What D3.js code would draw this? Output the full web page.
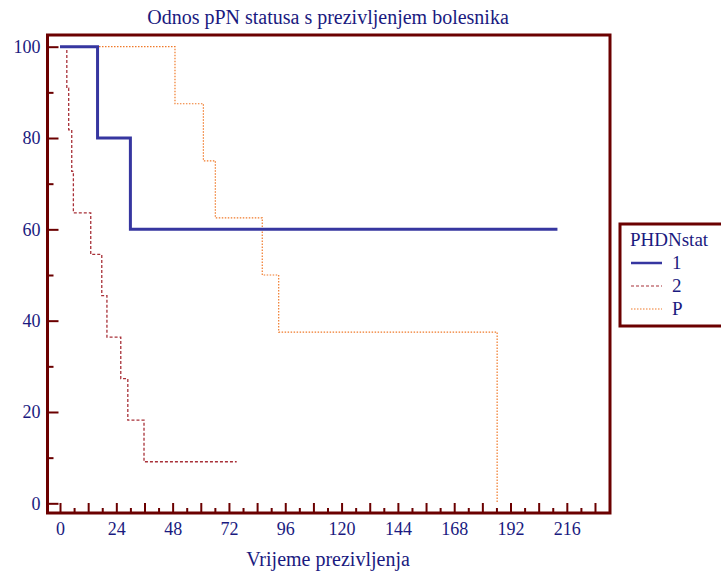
<!DOCTYPE html>
<html>
<head>
<meta charset="utf-8">
<script src="https://cdn.jsdelivr.net/npm/d3@7"></script>
<style>
body { margin: 0; background: #fff; }
text { font-family: "Liberation Serif", "DejaVu Serif", serif; fill: #1a1a80; }
</style>
</head>
<body>
<script>
// survival curves (time in months, survival %)
var times1 = [0, 16, 30, 212];
var surv1 = [100, 80, 60, 60];
var times2 = [0, 2.9, 3.7, 5, 5.7, 13.1, 17.8, 20, 25.9, 28.9, 35.8, 75.3];
var surv2 = [100, 90.9, 81.8, 72.7, 63.6, 54.5, 45.5, 36.4, 27.3, 18.2, 9.1, 9.1];
var timesP = [0, 49, 61.1, 66.2, 86.2, 93.2, 186.3];
var survP = [100, 87.5, 75, 62.5, 50, 37.5, 0];

var groups = ["1", "2", "P"];
var xTicks = [0, 24, 48, 72, 96, 120, 144, 168, 192, 216];
var yTicks = [0, 20, 40, 60, 80, 100];

var w = 721;
var h = 571;
var frame = "#6b0000";

var svg = d3.select("body")
    .append("svg")
    .attr("width", w)
    .attr("height", h);

var x = d3.scaleLinear()
    .domain([-5.33, 234.4])
    .range([47.5, 610]);

var y = d3.scaleLinear()
    .domain([-2.12, 102.56])
    .range([513, 35]);

// plot frame
svg.append("rect")
    .attr("x", x.range()[0])
    .attr("y", y.range()[1])
    .attr("width", x.range()[1] - x.range()[0])
    .attr("height", y.range()[0] - y.range()[1])
    .attr("fill", "none")
    .attr("stroke", frame)
    .attr("stroke-width", 3);

// y axis: major ticks every 20, minor every 10, pointing inward
svg.append("g")
    .attr("transform", "translate(" + x.range()[0] + ",0)")
    .call(d3.axisLeft(y).tickValues(d3.range(10, 100, 20)).tickSizeInner(-6).tickSizeOuter(0).tickFormat(""));
svg.append("g")
    .attr("transform", "translate(" + x.range()[0] + ",0)")
    .call(d3.axisLeft(y).tickValues(yTicks).tickSizeInner(-11).tickSizeOuter(0).tickPadding(7));

// x axis: major ticks every 12, minor every 6, labels every 24
svg.append("g")
    .attr("transform", "translate(0," + y.range()[0] + ")")
    .call(d3.axisBottom(x).tickValues(d3.range(6, 229, 12)).tickSizeInner(-5).tickSizeOuter(0).tickFormat(""));
svg.append("g")
    .attr("transform", "translate(0," + y.range()[0] + ")")
    .call(d3.axisBottom(x).tickValues(d3.range(0, 229, 12)).tickSizeInner(-10).tickSizeOuter(0)
        .tickPadding(9)
        .tickFormat(function(d) { return xTicks.indexOf(d) >= 0 ? d : ""; }));

svg.selectAll(".domain").remove();
svg.selectAll(".tick line")
    .attr("stroke", frame)
    .attr("stroke-width", 2);
svg.selectAll(".tick text")
    .attr("font-size", 18)
    .attr("font-family", "Liberation Serif")
    .attr("fill", "#1a1a80");

// titles
svg.append("text")
    .attr("x", 328)
    .attr("y", 24)
    .attr("text-anchor", "middle")
    .attr("font-size", 20)
    .text("Odnos pPN statusa s prezivljenjem bolesnika");

svg.append("text")
    .attr("x", 328)
    .attr("y", 566)
    .attr("text-anchor", "middle")
    .attr("font-size", 20)
    .text("Vrijeme prezivljenja");

// curves
var styles = [
    { color: "#3636a0", width: 3, dash: null },
    { color: "#a83038", width: 1.3, dash: "3,2" },
    { color: "#f07a2a", width: 1.2, dash: "1.5,1.5" }
];
var series = [
    d3.zip(times1, surv1),
    d3.zip(times2, surv2),
    d3.zip(timesP, survP)
];

var line = d3.line()
    .x(function(d) { return x(d[0]); })
    .y(function(d) { return y(d[1]); })
    .curve(d3.curveStepAfter);

// draw P first, then 2, then 1 on top
svg.selectAll(".curve")
    .data([2, 1, 0])
    .enter()
    .append("path")
    .attr("class", "curve")
    .attr("d", function(i) { return line(series[i]); })
    .attr("fill", "none")
    .attr("stroke", function(i) { return styles[i].color; })
    .attr("stroke-width", function(i) { return styles[i].width; })
    .attr("stroke-dasharray", function(i) { return styles[i].dash; });

// legend
var legend = svg.append("g");
legend.append("rect")
    .attr("x", 620)
    .attr("y", 224)
    .attr("width", 110)
    .attr("height", 102)
    .attr("fill", "#fff")
    .attr("stroke", frame)
    .attr("stroke-width", 3);
legend.append("text")
    .attr("x", 630)
    .attr("y", 246)
    .attr("font-size", 19)
    .text("PHDNstat");

var items = legend.selectAll(".item")
    .data(groups)
    .enter()
    .append("g")
    .attr("class", "item")
    .attr("transform", function(d, i) { return "translate(0," + (263 + i * 23) + ")"; });
items.append("line")
    .attr("x1", 631)
    .attr("x2", 662)
    .attr("stroke", function(d, i) { return styles[i].color; })
    .attr("stroke-width", function(d, i) { return i === 0 ? 2.5 : 1.2; })
    .attr("stroke-dasharray", function(d, i) { return styles[i].dash; });
items.append("text")
    .attr("x", 672)
    .attr("y", 6)
    .attr("font-size", 19)
    .text(function(d) { return d; });
</script>
</body>
</html>
